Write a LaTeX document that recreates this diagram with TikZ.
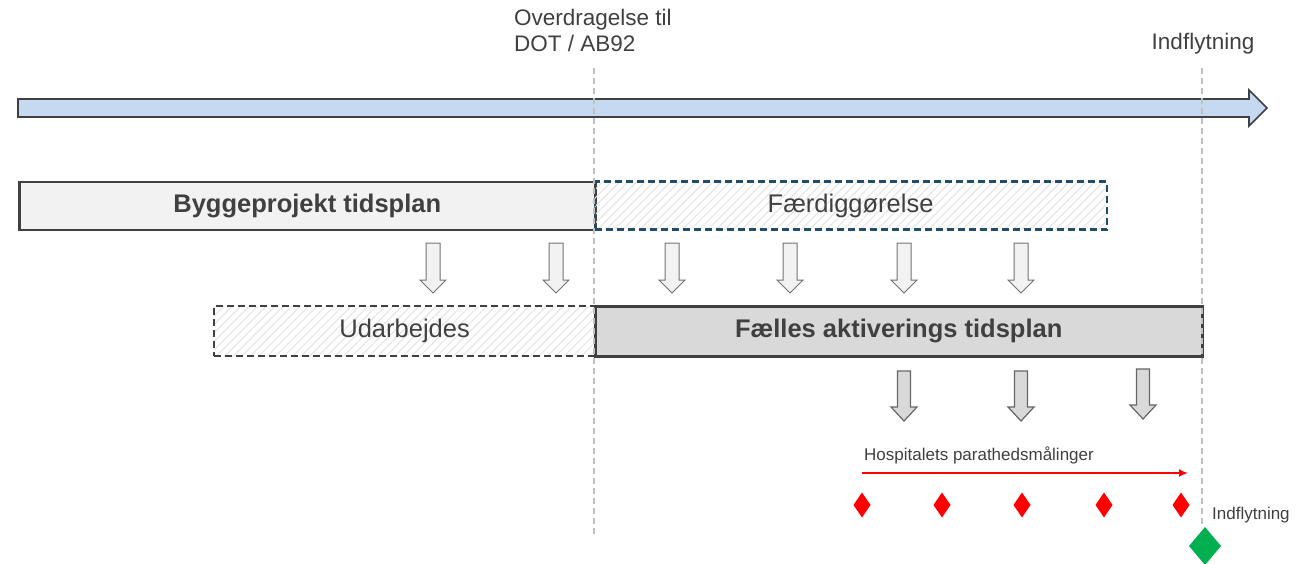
\documentclass[tikz,border=0pt]{standalone}
\usepackage{fontspec}
\setmainfont{Liberation Sans}
\usetikzlibrary{patterns.meta,arrows.meta}
\definecolor{txt}{HTML}{404040}
\definecolor{bord}{HTML}{404040}
\definecolor{tlblue}{HTML}{C5D9F0}
\definecolor{lgray}{HTML}{F2F2F2}
\definecolor{mgray}{HTML}{D9D9D9}
\definecolor{guide}{HTML}{C0C0C0}
\definecolor{teal}{HTML}{1F4E66}
\definecolor{hatch}{HTML}{E6E6E6}
\definecolor{dgreen}{HTML}{00B050}
\tikzset{
  bigtxt/.style={text=txt,font=\fontsize{25.5}{30}\selectfont},
  boldtxt/.style={text=txt,font=\fontsize{25.5}{30}\selectfont\bfseries},
  hdrtxt/.style={text=txt,font=\fontsize{22.5}{26}\selectfont,align=left},
  smalltxt/.style={text=txt,font=\fontsize{17}{20}\selectfont},
  guideline/.style={draw=guide,line width=1.3pt,dash pattern=on 6pt off 4pt},
  solidbar/.style={draw=bord,line width=2.5pt,inner sep=0pt},
  hatchbar/.style={line width=2.2pt,inner sep=0pt,
     pattern={Lines[angle=45,distance=6pt,line width=1.2pt]},pattern color=hatch,
     dash pattern=on 7pt off 4pt},
  outarrow/.pic={\draw[draw=gray!90!black,fill=lgray,line width=1pt,line join=miter]
     (-7,0) -- (7,0) -- (7,37) -- (13,37) -- (0,50) -- (-13,37) -- (-7,37) -- cycle;},
  grayarrow/.pic={\draw[draw=gray!80!black,fill=mgray,line width=1.2pt,line join=miter]
     (-6.5,0) -- (6.5,0) -- (6.5,36) -- (13,36) -- (0,50) -- (-13,36) -- (-6.5,36) -- cycle;},
  reddia/.pic={\fill[red] (0,-12.5) -- (8.5,0) -- (0,12.5) -- (-8.5,0) -- cycle;},
}
\begin{document}
\begin{tikzpicture}[x=1pt,y=-1pt]
\useasboundingbox (0,0) rectangle (1309,564);
% guide lines
\coordinate (g1t) at (594,68); \coordinate (g1b) at (594,537);
\coordinate (g2t) at (1202,68); \coordinate (g2b) at (1202,528);
% timeline arrow
\draw[draw=bord,fill=tlblue,line width=1.6pt,line join=miter]
  (18,99) -- (1249,99) -- (1249,90) -- (1267,108) -- (1249,126) -- (1249,117) -- (18,117) -- cycle;
% headers
\node[hdrtxt,anchor=north west,inner sep=0pt] (ovd) at (514,9) {Overdragelse til\\DOT / AB92};
\node[hdrtxt,anchor=center,inner sep=0pt] (ind) at (1203,44) {Indflytning};
% bars
\node[solidbar,fill=lgray,anchor=north west,minimum width=576pt,minimum height=48pt] (byg) at (18,181) {};
\node[boldtxt] at (byg.center) {Byggeprojekt tidsplan};
\node[hatchbar,draw=teal,anchor=north west,minimum width=512pt,minimum height=48pt] (faerd) at (594,181) {};
\node[bigtxt] at (faerd.center) {Færdiggørelse};
\node[hatchbar,draw=bord,anchor=north west,minimum width=381pt,minimum height=50pt] (udar) at (213,305) {};
\node[bigtxt] at (udar.center) {Udarbejdes};
\node[solidbar,fill=mgray,anchor=north west,minimum width=607pt,minimum height=50pt] (faelles) at (594,305) {};
\node[boldtxt] at (faelles.center) {Fælles aktiverings tidsplan};
% guide lines on top
\draw[guideline] (g1t) -- (g1b);
\draw[guideline] (g2t) -- (g2b);
% outline arrows
\foreach \x in {433,556,672,790,904,1021} { \pic at (\x,243) {outarrow}; }
% gray arrows
\foreach \x in {904,1021} { \pic at (\x,371) {grayarrow}; }
\pic at (1143,369) {grayarrow};
% red measurement arrow
\node[smalltxt,anchor=west,inner sep=0pt] (hosp) at (864,455) {Hospitalets parathedsmålinger};
\coordinate (ra) at (862,473); \coordinate (rb) at (1188,473);
\draw[red,line width=2.8pt,-{Latex[length=9pt,width=8pt]}] (ra) -- (rb);
\foreach \x in {862,942,1022,1104,1181} { \pic at (\x,505) {reddia}; }
% green diamond
\fill[dgreen] (1205,527) -- (1221,546) -- (1205,565) -- (1189,546) -- cycle;
\node[smalltxt,anchor=west,inner sep=0pt] (ind2) at (1212,515) {Indflytning};
\end{tikzpicture}
\end{document}
